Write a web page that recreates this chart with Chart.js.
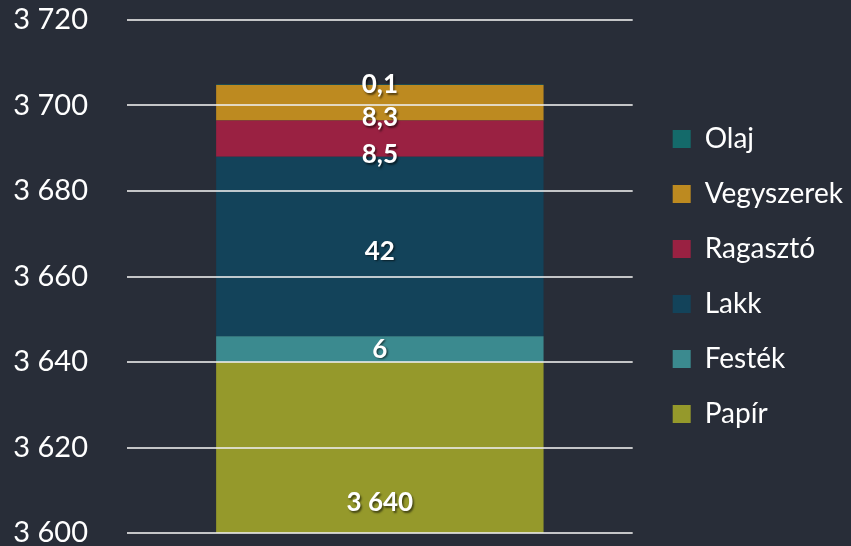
<!DOCTYPE html>
<html>
<head>
<meta charset="utf-8">
<script src="https://cdn.jsdelivr.net/npm/chart.js@4/dist/chart.umd.min.js"></script>
<style>
  html, body { margin: 0; padding: 0; background: #282d38; }
  #wrap { width: 851px; height: 546px; }
</style>
</head>
<body>
<div id="wrap"><canvas id="chart"></canvas></div>
<script>
// data
const categories = [''];
const seriesNames = ['Papír', 'Festék', 'Lakk', 'Ragasztó', 'Vegyszerek', 'Olaj'];
const seriesValues = [3640, 6, 42, 8.5, 8.3, 0.1];
const seriesColors = ['#95992b', '#3b8a8f', '#13435a', '#9a2142', '#bd8a20', '#146a6a'];
const yTicks = [3600, 3620, 3640, 3660, 3680, 3700, 3720];

// nudges so labels don't collide (like the original)
const labelShift = [0, 0, 5, 16, 15, 0];

const FONT = 'Lato';

function fmtNum(v) {
  const s = String(v).replace('.', ',');
  const parts = s.split(',');
  parts[0] = parts[0].replace(/\B(?=(\d{3})+(?!\d))/g, ' ');
  return parts.join(',');
}

// white bold value labels drawn on each segment
const valueLabels = {
  id: 'valueLabels',
  afterDatasetsDraw(chart) {
    const ctx = chart.ctx;
    const area = chart.chartArea;
    ctx.save();
    ctx.font = 'bold 26px ' + FONT;
    ctx.fillStyle = '#ffffff';
    ctx.textAlign = 'center';
    ctx.textBaseline = 'middle';
    ctx.shadowColor = 'rgba(0,0,0,0.55)';
    ctx.shadowOffsetX = 1.5;
    ctx.shadowOffsetY = 1.5;
    ctx.shadowBlur = 2;
    chart.data.datasets.forEach((ds, i) => {
      const bar = chart.getDatasetMeta(i).data[0];
      if (!bar) return;
      let top = Math.max(bar.y, area.top);
      let bottom = Math.min(bar.base, area.bottom);
      let y = (top + bottom) / 2 + labelShift[i];
      if (bar.base > area.bottom) y = area.bottom - 30;
      ctx.fillText(fmtNum(ds.data[0]), bar.x, y);
    });
    ctx.restore();
  }
};

// push legend a bit away from the plot
const legendGap = {
  id: 'legendGap',
  beforeInit(chart) {
    const lg = chart.legend;
    if (!lg) return;
    const fit = lg.fit;
    lg.fit = function () { fit.call(this); this.width += 5; };
    const draw = lg.draw;
    lg.draw = function () {
      this.ctx.save();
      this.ctx.translate(13, 0);
      draw.call(this);
      this.ctx.restore();
    };
  }
};

const ctx = document.getElementById('chart').getContext('2d');
new Chart(ctx, {
  type: 'bar',
  data: {
    labels: categories,
    datasets: seriesNames.map((name, i) => ({
      label: name,
      data: [seriesValues[i]],
      backgroundColor: seriesColors[i],
      borderWidth: 0,
      barPercentage: 0.6475,
      categoryPercentage: 1
    }))
  },
  options: {
    responsive: true,
    maintainAspectRatio: false,
    animation: false,
    layout: { padding: { top: 20, bottom: 13, left: 0, right: 6 } },
    plugins: {
      tooltip: { enabled: false },
      legend: {
        position: 'right',
        reverse: true,
        labels: {
          color: '#ffffff',
          font: { family: FONT, size: 28 },
          boxWidth: 18,
          boxHeight: 18,
          padding: 27
        }
      }
    },
    scales: {
      x: { stacked: true, display: false },
      y: {
        stacked: true,
        min: yTicks[0],
        max: yTicks[yTicks.length - 1],
        afterBuildTicks: s => { s.ticks = yTicks.map(v => ({ value: v })); },
        afterFit: s => { s.width = 127; s.paddingTop = 0; s.paddingBottom = 0; },
        border: { display: false },
        grid: { color: 'rgba(235,235,235,0.8)', lineWidth: 2, drawTicks: false, z: 1 },
        ticks: {
          color: '#ffffff',
          font: { family: FONT, size: 29 },
          padding: 39,
          callback: v => fmtNum(v)
        }
      }
    }
  },
  plugins: [valueLabels, legendGap]
});
</script>
</body>
</html>
